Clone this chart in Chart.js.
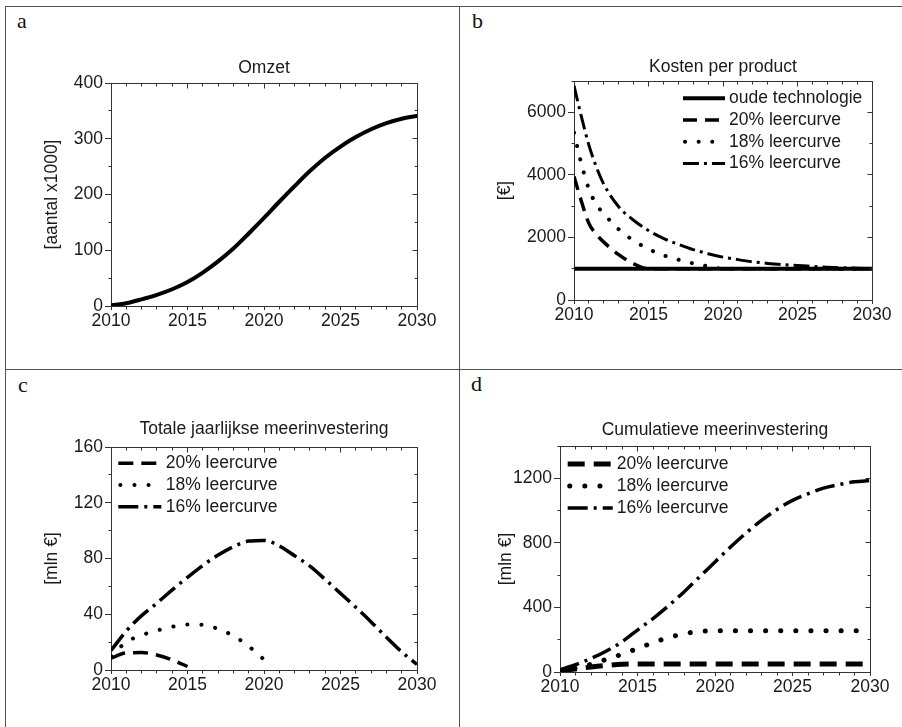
<!DOCTYPE html>
<html><head><meta charset="utf-8">
<script src="https://cdn.jsdelivr.net/npm/chart.js@4.4.1/dist/chart.umd.min.js"></script>
<style>
html,body{margin:0;padding:0;background:#fff;}
body{width:902px;height:727px;position:relative;overflow:hidden;}
.ln{position:absolute;background:#555;}
.lbl{position:absolute;font-family:"Liberation Serif","Times New Roman",serif;font-size:22px;line-height:22px;color:#111;}
canvas{position:absolute;}
</style></head><body>
<div class="ln" style="left:5px;top:6px;width:897px;height:1px"></div>
<div class="ln" style="left:5px;top:369px;width:897px;height:1px"></div>
<div class="ln" style="left:5px;top:6px;width:1px;height:721px"></div>
<div class="ln" style="left:459px;top:6px;width:1px;height:721px"></div>
<div class="lbl" style="left:17px;top:10px">a</div>
<div class="lbl" style="left:472px;top:10px">b</div>
<div class="lbl" style="left:18px;top:374px">c</div>
<div class="lbl" style="left:471px;top:373px">d</div>
<canvas id="ca" width="453" height="362" style="left:6px;top:7px"></canvas>
<canvas id="cb" width="442" height="362" style="left:460px;top:7px"></canvas>
<canvas id="cc" width="453" height="357" style="left:6px;top:370px"></canvas>
<canvas id="cd" width="442" height="357" style="left:460px;top:370px"></canvas>
<script>
// ---------- data ----------
const years = [2010,2011,2012,2013,2014,2015,2016,2017,2018,2019,2020,2021,2022,2023,2024,2025,2026,2027,2028,2029,2030];
const xTicks = [2010,2015,2020,2025,2030];

// a: Omzet [aantal x1000]
const omzet = [1,5,12,20,30,43,60,80,103,130,158,187,215,242,266,286,303,317,328,336,341];
const yTicksA = [0,100,200,300,400];

// b: Kosten per product [€]
const kostenJaren = [2010,2010.5,2011,2011.5,2012,2013,2014,2015,2016,2017,2018,2019,2020,2021,2022,2023,2024,2025,2026,2027,2028,2029,2030];
const oudeTechnologie = [1000,1000,1000,1000,1000,1000,1000,1000,1000,1000,1000,1000,1000,1000,1000,1000,1000,1000,1000,1000,1000,1000,1000];
const kosten20 = [3950,3150,2450,2100,1850,1450,1160,1000,1000,1000,1000,1000,1000,1000,1000,1000,1000,1000,1000,1000,1000,1000,1000];
const kosten18 = [5350,4350,3550,3050,2760,2260,1900,1630,1430,1290,1170,1075,1000,1000,1000,1000,1000,1000,1000,1000,1000,1000,1000];
const kosten16 = [6850,5850,4950,4250,3700,2980,2550,2220,1970,1780,1610,1480,1370,1290,1220,1170,1130,1100,1075,1050,1030,1015,1000];
const yTicksB = [0,2000,4000,6000];

// c: Totale jaarlijkse meerinvestering [mln €]
const invest20 = [8.5,12.3,12.5,10.8,7.3,2.5,null,null,null,null,null,null,null,null,null,null,null,null,null,null,null];
const invest18 = [10,20,25,28.3,31,32.7,32.5,29.5,24.5,17,7.5,null,null,null,null,null,null,null,null,null,null];
const invest16 = [14,28,39,48,57.5,66.5,75,82.5,88.5,92.5,93,89,82,74.5,65,55,45,34.5,23.5,13,4];
const yTicksC = [0,40,80,120,160];

// d: Cumulatieve meerinvestering [mln €]
const cumul20 = [8,19,31,41,48,50,50,50,50,50,50,50,50,50,50,50,50,50,50,50,50];
const cumul18 = [8,24,48,78,110,145,182,213,237,251,256,256,256,256,256,256,256,256,256,256,256];
const cumul16 = [14,45,84,130,187,260,331,410,496,589,682,774,861,939,1007,1063,1104,1139,1161,1178,1186];
const yTicksD = [0,400,800,1200];

const labels3 = ['20% leercurve','18% leercurve','16% leercurve'];

// ---------- styling ----------
const FAM = '"Liberation Sans", Arial, sans-serif';
const TXT = '#1a1a1a';
const AXIS = '#333';
const FSIZE = 17.5;
const FONT = {family: FAM, size: FSIZE};

function pts(xs, ys) {
  return xs.map((x, i) => ({x: x, y: ys[i]})).filter(p => p.y !== null);
}
function ds(label, xs, ys, width, dash, cap) {
  return {label: label, data: pts(xs, ys), borderColor: '#000', borderWidth: width,
    borderDash: dash, borderCapStyle: cap || 'butt', pointRadius: 0,
    cubicInterpolationMode: 'monotone', fill: false, xAxisID: 'x', yAxisID: 'y'};
}

const alignPx = v => Math.round(v - 0.5) + 0.5;

const frameTicks = {
  id: 'frameTicks',
  afterDraw(chart, args, opts) {
    const {ctx, chartArea: ca} = chart;
    const x = chart.scales.x, y = chart.scales.y;
    const L = alignPx(ca.left), R = alignPx(ca.right), T = alignPx(ca.top), B = alignPx(ca.bottom);
    ctx.save();
    ctx.strokeStyle = AXIS; ctx.lineWidth = 1; ctx.setLineDash([]);
    ctx.beginPath();
    ctx.moveTo(L, T); ctx.lineTo(R, T); ctx.lineTo(R, B);
    for (let v = x.min; v <= x.max + 1e-9; v += opts.xMinor) {
      const px = alignPx(x.getPixelForValue(v));
      const major = Math.abs(v % opts.xMajor) < 1e-9;
      if (!major) { ctx.moveTo(px, B); ctx.lineTo(px, B + 3); }
      ctx.moveTo(px, T); ctx.lineTo(px, T + (major ? 5 : 3));
    }
    for (let v = y.min; v <= y.max + 1e-9; v += opts.yMinor) {
      const py = alignPx(y.getPixelForValue(v));
      const major = Math.abs(v % opts.yMajor) < 1e-9;
      if (!major) { ctx.moveTo(L - 3, py); ctx.lineTo(L, py); }
      ctx.moveTo(R, py); ctx.lineTo(R - (major ? 5 : 3), py);
    }
    ctx.stroke();
    ctx.restore();
  }
};

const lineLegend = {
  id: 'lineLegend',
  afterDatasetsDraw(chart, args, opts) {
    if (!opts || !opts.show) return;
    const {ctx, chartArea: ca} = chart;
    chart.data.datasets.forEach((d, i) => {
      const yy = ca.top + opts.dy + i * opts.rowH;
      const x0 = ca.left + opts.dx;
      const round = d.borderCapStyle === 'round';
      const len = round ? opts.sampleW - 4 : opts.sampleW;
      ctx.save();
      ctx.strokeStyle = d.borderColor; ctx.lineWidth = d.borderWidth;
      ctx.setLineDash(d.borderDash || []); ctx.lineCap = d.borderCapStyle || 'butt';
      ctx.beginPath(); ctx.moveTo(x0 + (round ? 2 : 0), yy); ctx.lineTo(x0 + (round ? 2 : 0) + len, yy); ctx.stroke();
      ctx.setLineDash([]);
      ctx.fillStyle = TXT; ctx.font = FSIZE + 'px ' + FAM;
      ctx.textBaseline = 'middle'; ctx.textAlign = 'left';
      ctx.fillText(d.label, ca.left + opts.tx, yy);
      ctx.restore();
    });
  }
};

function makeChart(id, c) {
  return new Chart(document.getElementById(id), {
    type: 'line',
    data: {datasets: c.datasets},
    options: {
      responsive: false, animation: false, devicePixelRatio: 1,
      layout: {padding: {left: c.padL, top: c.padT, right: c.padR, bottom: c.padB}},
      plugins: {
        legend: {display: false}, tooltip: {enabled: false}, title: {display: false},
        frameTicks: {xMinor: 1, xMajor: 5, yMinor: c.yMinor, yMajor: c.yTicks[1] - c.yTicks[0]},
        lineLegend: c.legend || {show: false}
      },
      scales: {
        x: {type: 'linear', axis: 'x', position: 'bottom', min: 2010, max: 2030,
          afterFit: s => { s.height = 30; },
          afterBuildTicks: s => { s.ticks = xTicks.map(v => ({value: v})); },
          ticks: {autoSkip: false, maxRotation: 0, minRotation: 0, padding: 1,
            font: FONT, color: TXT, callback: v => String(v)},
          grid: {drawOnChartArea: false, drawTicks: true, tickLength: 4, color: AXIS},
          border: {display: true, color: AXIS, width: 1}},
        xt: {type: 'linear', axis: 'x', position: 'top', min: 2010, max: 2030,
          afterFit: s => { s.height = c.ht; },
          ticks: {display: false}, grid: {display: false, drawTicks: false},
          border: {display: false},
          title: {display: true, text: c.title, font: FONT, color: TXT, padding: 0}},
        y: {type: 'linear', axis: 'y', position: 'left', min: 0, max: c.yMax,
          afterFit: s => { s.width = c.wy; },
          afterBuildTicks: s => { s.ticks = c.yTicks.map(v => ({value: v})); },
          ticks: {autoSkip: false, padding: 2, font: FONT, color: TXT, callback: v => String(v)},
          grid: {drawOnChartArea: false, drawTicks: true, tickLength: 6, color: AXIS},
          border: {display: true, color: AXIS, width: 1},
          title: {display: true, text: c.yTitle, font: FONT, color: TXT, padding: 0}}
      }
    },
    plugins: [frameTicks, lineLegend]
  });
}

// a
makeChart('ca', {
  title: 'Omzet', yTitle: '[aantal x1000]', yMax: 400, yTicks: yTicksA, yMinor: 50,
  padL: 36, wy: 69, padT: 51, ht: 25, padR: 42, padB: 33,
  datasets: [ds('Omzet', years, omzet, 4, [], 'round')]
});

// b
makeChart('cb', {
  title: 'Kosten per product', yTitle: '[€]', yMax: 7000, yTicks: yTicksB, yMinor: 1000,
  padL: 35, wy: 79, padT: 50, ht: 24, padR: 30, padB: 39,
  legend: {show: true, dx: 109, tx: 155, dy: 17.3, rowH: 21.7, sampleW: 42},
  datasets: [
    ds('oude technologie', kostenJaren, oudeTechnologie, 4, []),
    ds(labels3[0], kostenJaren, kosten20, 3.5, [14, 8]),
    ds(labels3[1], kostenJaren, kosten18, 4, [0.1, 13.5], 'round'),
    ds(labels3[2], kostenJaren, kosten16, 3, [16, 5, 3, 5])
  ]
});

// c
makeChart('cc', {
  title: 'Totale jaarlijkse meerinvestering', yTitle: '[mln €]', yMax: 160, yTicks: yTicksC, yMinor: 20,
  padL: 36, wy: 69, padT: 49, ht: 28, padR: 42, padB: 27,
  legend: {show: true, dx: 7.3, tx: 54.7, dy: 16.3, rowH: 21.7, sampleW: 43},
  datasets: [
    ds(labels3[0], years, invest20, 3.5, [15, 8]),
    ds(labels3[1], years, invest18, 4, [0.1, 14], 'round'),
    ds(labels3[2], years, invest16, 3.5, [20, 6, 3, 6])
  ]
});

// d
makeChart('cd', {
  title: 'Cumulatieve meerinvestering', yTitle: '[mln €]', yMax: 1400, yTicks: yTicksD, yMinor: 200,
  padL: 36, wy: 64, padT: 50, ht: 26, padR: 32, padB: 25,
  legend: {show: true, dx: 7.7, tx: 56.7, dy: 18, rowH: 22, sampleW: 45},
  datasets: [
    ds(labels3[0], years, cumul20, 5, [17, 9]),
    ds(labels3[1], years, cumul18, 5, [0.1, 15], 'round'),
    ds(labels3[2], years, cumul16, 3.5, [20, 6, 3, 6])
  ]
});
</script>
</body></html>
